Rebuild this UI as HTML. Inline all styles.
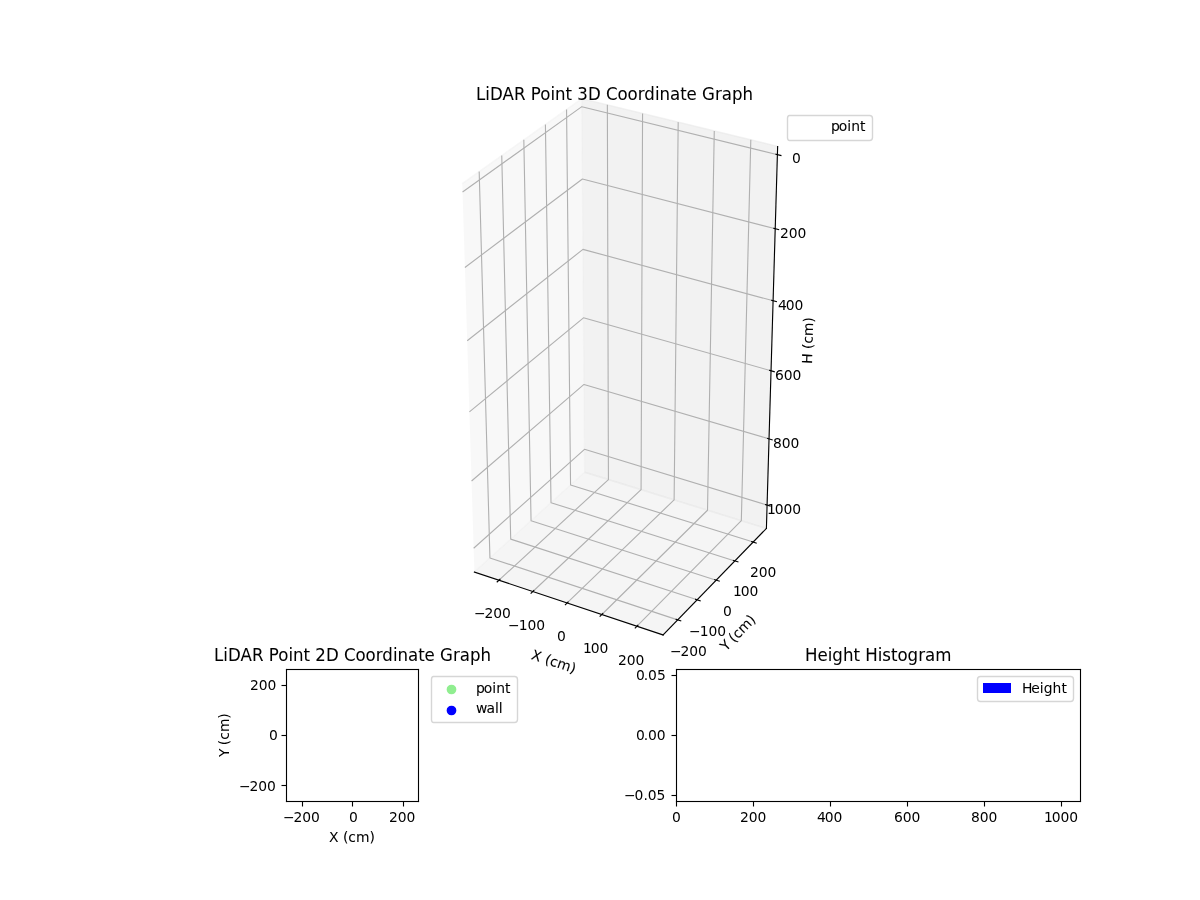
<!DOCTYPE html>
<html lang="en">
<head>
<meta charset="utf-8">
<title>LiDAR Point Coordinate Graphs</title>
<style>
html,body{margin:0;padding:0;background:#fff;width:1200px;height:900px;overflow:hidden}
svg{display:block;position:absolute;left:0;top:0}
text{font-family:"DejaVu Sans","Liberation Sans",sans-serif;fill:#000;white-space:pre}
</style>
</head>
<body>
<svg width="1200" height="900" viewBox="0 0 1200 900">
<path d="M462.29 183.6 L581.79 98.63 L584.68 472.22 L474.4 571.98" fill="#f2f2f2" fill-opacity="0.5" stroke="#f2f2f2" stroke-width="1.389" stroke-opacity="0.5" stroke-linejoin="miter"/>
<path d="M581.79 98.63 L777.93 146.45 L766.4 528.46 L584.68 472.22" fill="#e6e6e6" fill-opacity="0.5" stroke="#e6e6e6" stroke-width="1.389" stroke-opacity="0.5" stroke-linejoin="miter"/>
<path d="M474.4 571.98 L663.06 634.91 L766.4 528.46 L584.68 472.22" fill="#ececec" fill-opacity="0.5" stroke="#ececec" stroke-width="1.389" stroke-opacity="0.5" stroke-linejoin="miter"/>
<path d="M499.01 580.19 L608.42 479.56 L607.36 104.87" fill="none" stroke="#b0b0b0" stroke-width="1.111" stroke-linejoin="round"/>
<path d="M532.88 591.48 L641.08 489.67 L642.56 113.45" fill="none" stroke="#b0b0b0" stroke-width="1.111" stroke-linejoin="round"/>
<path d="M567.16 602.92 L674.11 499.89 L678.19 122.13" fill="none" stroke="#b0b0b0" stroke-width="1.111" stroke-linejoin="round"/>
<path d="M601.86 614.5 L707.52 510.24 L714.27 130.93" fill="none" stroke="#b0b0b0" stroke-width="1.111" stroke-linejoin="round"/>
<path d="M636.99 626.21 L741.33 520.7 L750.81 139.84" fill="none" stroke="#b0b0b0" stroke-width="1.111" stroke-linejoin="round"/>
<path d="M479.18 171.59 L489.93 557.93 L677.64 619.9" fill="none" stroke="#b0b0b0" stroke-width="1.111" stroke-linejoin="round"/>
<path d="M501.75 155.54 L510.71 539.13 L697.13 599.82" fill="none" stroke="#b0b0b0" stroke-width="1.111" stroke-linejoin="round"/>
<path d="M523.82 139.85 L531.06 520.72 L716.21 580.17" fill="none" stroke="#b0b0b0" stroke-width="1.111" stroke-linejoin="round"/>
<path d="M545.41 124.5 L551.01 502.67 L734.89 560.92" fill="none" stroke="#b0b0b0" stroke-width="1.111" stroke-linejoin="round"/>
<path d="M566.55 109.47 L570.56 484.98 L753.2 542.06" fill="none" stroke="#b0b0b0" stroke-width="1.111" stroke-linejoin="round"/>
<path d="M777.68 154.69 L581.85 106.67 L462.55 191.99" fill="none" stroke="#b0b0b0" stroke-width="1.111" stroke-linejoin="round"/>
<path d="M775.45 228.8 L582.41 179.01 L464.9 267.45" fill="none" stroke="#b0b0b0" stroke-width="1.111" stroke-linejoin="round"/>
<path d="M773.27 300.81 L582.95 249.37 L467.19 340.72" fill="none" stroke="#b0b0b0" stroke-width="1.111" stroke-linejoin="round"/>
<path d="M771.16 370.81 L583.48 317.82 L469.41 411.88" fill="none" stroke="#b0b0b0" stroke-width="1.111" stroke-linejoin="round"/>
<path d="M769.11 438.88 L584 384.45 L471.56 481.04" fill="none" stroke="#b0b0b0" stroke-width="1.111" stroke-linejoin="round"/>
<path d="M767.11 505.1 L584.5 449.32 L473.66 548.27" fill="none" stroke="#b0b0b0" stroke-width="1.111" stroke-linejoin="round"/>
<path d="M474.4 572.03 L663.06 634.96" fill="none" stroke="#000000" stroke-width="1.111" stroke-linecap="square" stroke-linejoin="round"/>
<path d="M499.94 579.34 L497.16 581.89" fill="none" stroke="#000000" stroke-width="1.111" stroke-linecap="square" stroke-linejoin="round"/>
<text x="473.91 484.53 493.36 501.93" y="618.24" font-size="13.89">−200</text>
<path d="M533.79 590.62 L531.05 593.21" fill="none" stroke="#000000" stroke-width="1.111" stroke-linecap="square" stroke-linejoin="round"/>
<text x="507.89 518.76 527.59 536.15" y="629.69" font-size="13.89">−100</text>
<path d="M568.06 602.05 L565.35 604.66" fill="none" stroke="#000000" stroke-width="1.111" stroke-linecap="square" stroke-linejoin="round"/>
<text x="556.97" y="641.28" font-size="13.89">0</text>
<path d="M602.75 613.61 L600.07 616.26" fill="none" stroke="#000000" stroke-width="1.111" stroke-linecap="square" stroke-linejoin="round"/>
<text x="583.03 590.84 599.42" y="653.01" font-size="13.89">100</text>
<path d="M637.87 625.32 L635.22 628" fill="none" stroke="#000000" stroke-width="1.111" stroke-linecap="square" stroke-linejoin="round"/>
<text x="617.89 626.7 635.53" y="664.88" font-size="13.89">200</text>
<text x="530.42 540.17 544.82 550 557.62 571.14" y="658.85" transform="rotate(-341.552 530.67 658.85)" font-size="13.89" stroke="#000" stroke-width="0.07">X (cm)</text>
<path d="M766.4 528.46 L663.06 634.91" fill="none" stroke="#000000" stroke-width="1.156" stroke-linecap="square" stroke-linejoin="round"/>
<path d="M676.09 619.38 L680.75 620.92" fill="none" stroke="#000000" stroke-width="1.111" stroke-linecap="square" stroke-linejoin="round"/>
<text x="669.94 680.57 689.15 697.96" y="655.72" font-size="13.89">−200</text>
<path d="M695.59 599.32 L700.21 600.83" fill="none" stroke="#000000" stroke-width="1.111" stroke-linecap="square" stroke-linejoin="round"/>
<text x="688.95 699.83 708.41 717.22" y="636.44" font-size="13.89">−100</text>
<path d="M714.68 579.68 L719.27 581.15" fill="none" stroke="#000000" stroke-width="1.111" stroke-linecap="square" stroke-linejoin="round"/>
<text x="723" y="615.58" font-size="13.89">0</text>
<path d="M733.38 560.44 L737.93 561.88" fill="none" stroke="#000000" stroke-width="1.111" stroke-linecap="square" stroke-linejoin="round"/>
<text x="732.97 740.78 749.61" y="596.12" font-size="13.89">100</text>
<path d="M751.69 541.59 L756.22 543.01" fill="none" stroke="#000000" stroke-width="1.111" stroke-linecap="square" stroke-linejoin="round"/>
<text x="749.93 758.74 767.57" y="577.07" font-size="13.89">200</text>
<text x="726.36 733.83 738.24 743.41 751.03 764.55" y="652.42" transform="rotate(-45.85 725.36 652.42)" font-size="13.89" stroke="#000" stroke-width="0.06">Y (cm)</text>
<path d="M766.4 528.46 L777.63 146.45" fill="none" stroke="#000000" stroke-width="1.111" stroke-linecap="square" stroke-linejoin="round"/>
<path d="M776.06 154.29 L780.93 155.48" fill="none" stroke="#000000" stroke-width="1.111" stroke-linecap="square" stroke-linejoin="round"/>
<text x="792.12" y="162.58" font-size="13.89">0</text>
<path d="M773.85 228.39 L778.64 229.62" fill="none" stroke="#000000" stroke-width="1.111" stroke-linecap="square" stroke-linejoin="round"/>
<text x="779.88 788.7 797.53" y="237.61" font-size="13.89">200</text>
<path d="M771.7 300.39 L776.42 301.66" fill="none" stroke="#000000" stroke-width="1.111" stroke-linecap="square" stroke-linejoin="round"/>
<text x="777.97 785.78 794.61" y="309.56" font-size="13.89">400</text>
<path d="M769.61 370.38 L774.27 371.69" fill="none" stroke="#000000" stroke-width="1.111" stroke-linecap="square" stroke-linejoin="round"/>
<text x="775.05 783.86 792.44" y="380.49" font-size="13.89">600</text>
<path d="M767.58 438.43 L772.17 439.78" fill="none" stroke="#000000" stroke-width="1.111" stroke-linecap="square" stroke-linejoin="round"/>
<text x="773.01 781.83 790.41" y="447.5" font-size="13.89">800</text>
<path d="M765.6 504.64 L770.13 506.02" fill="none" stroke="#000000" stroke-width="1.111" stroke-linecap="square" stroke-linejoin="round"/>
<text x="766.91 774.73 783.56 792.13" y="513.66" font-size="13.89">1000</text>
<text x="811.75 822.42 826.59 832 839.62 853.14" y="363.79" transform="rotate(-88.271 812 363.79)" font-size="13.89" stroke="#000" stroke-width="0.04">H (cm)</text>
<text x="-0.27 9.64 14.84 28.22 40.38 52.73 58.39 68.48 79.63 84.3 95.56 102.53 108.19 119.77 133.19 139.11 151.27 162.14 173.02 180.02 191.58 196.25 207.52 218.67 225.39 236.33 241.97 255.75 263.06 273.95 285.25" y="0" transform="translate(476.25 99.67) scale(0.93335 1)" font-size="17.8" stroke="#000" stroke-width="0.04">LiDAR Point 3D Coordinate Graph</text>
<path d="M789.5 140.5 L869.5 140.5 Q872.5 140.5 872.5 137.5 L872.5 118.5 Q872.5 115.5 869.5 115.5 L789.5 115.5 Q787.5 115.5 787.5 118.5 L787.5 137.5 Q787.5 140.5 789.5 140.5 Z" fill="#ffffff" fill-opacity="0.8" stroke="#cccccc" stroke-width="1.389" stroke-opacity="0.8" stroke-linejoin="miter"/>
<text x="831 838.8 847.28 851.14 859.94" y="130.5" font-size="13.89" stroke="#000" stroke-width="0.06">point</text>
<rect x="301.944" y="801.5" width="1.111" height="5" fill="#000000"/>
<text x="282.95 293.58 302.15 310.97" y="821.72" font-size="13.89">−200</text>
<rect x="351.944" y="801.5" width="1.111" height="5" fill="#000000"/>
<text x="349.05" y="821.72" font-size="13.89">0</text>
<rect x="402.944" y="801.5" width="1.111" height="5" fill="#000000"/>
<text x="389.08 397.65 406.48" y="821.72" font-size="13.89">200</text>
<text x="328.99 338.49 342.89 348.31 355.94 369.46" y="842.28" font-size="13.89" stroke="#000" stroke-width="0.05">X (cm)</text>
<rect x="281.5" y="784.944" width="5" height="1.111" fill="#000000"/>
<text x="239.08 249.45 258.28 267.09" y="790.79" font-size="13.89">−200</text>
<rect x="281.5" y="734.944" width="5" height="1.111" fill="#000000"/>
<text x="268.95" y="739.5" font-size="13.89">0</text>
<rect x="281.5" y="684.944" width="5" height="1.111" fill="#000000"/>
<text x="249.95 258.76 267.59" y="690.21" font-size="13.89">200</text>
<text x="229.52 236.99 241.15 246.57 254.44 267.71" y="757.88" transform="rotate(-90 228.52 757.88)" font-size="13.89">Y (cm)</text>
<rect x="285.944" y="668.944" width="1.111" height="133.111" fill="#000000"/>
<rect x="417.944" y="668.944" width="1.111" height="133.111" fill="#000000"/>
<rect x="285.944" y="800.944" width="133.111" height="1.111" fill="#000000"/>
<rect x="285.944" y="668.944" width="133.111" height="1.111" fill="#000000"/>
<text x="-0.26 9.43 14.52 27.59 39.5 51.58 57.11 66.97 77.87 82.44 93.47 100.28 105.81 117.14 130.27 136.06 147.94 158.32 169.22 176.06 187.11 191.94 202.95 213.61 220.18 231.12 236.39 250.14 257.02 267.94 278.72" y="0" transform="translate(214.17 660.67) scale(0.95518 1)" font-size="17.4" stroke="#000" stroke-width="0.04">LiDAR Point 2D Coordinate Graph</text>
<path d="M433.5 722.5 L514.5 722.5 Q517.5 722.5 517.5 719.5 L517.5 679.5 Q517.5 676.5 514.5 676.5 L433.5 676.5 Q431.5 676.5 431.5 679.5 L431.5 719.5 Q431.5 722.5 433.5 722.5 Z" fill="#ffffff" fill-opacity="0.8" stroke="#cccccc" stroke-width="1.389" stroke-opacity="0.8" stroke-linejoin="miter"/>
<circle cx="451.5" cy="689.5" r="4.167" fill="#90ee90" stroke="#90ee90" stroke-width="1.389"/>
<text x="475.91 483.71 492.19 496.3 505.1" y="692.5" font-size="13.89" stroke="#000" stroke-width="0.06">point</text>
<circle cx="451.5" cy="710.5" r="4.167" fill="#0000ff" stroke="#0000ff" stroke-width="1.389"/>
<text x="475.91 486.51 495.01 498.87" y="713.44" font-size="13.89" stroke="#000" stroke-width="0.08">wall</text>
<rect x="675.944" y="801.5" width="1.111" height="5" fill="#000000"/>
<text x="672.03" y="821.72" font-size="13.89">0</text>
<rect x="752.944" y="801.5" width="1.111" height="5" fill="#000000"/>
<text x="740.05 748.86 757.44" y="821.72" font-size="13.89">200</text>
<rect x="829.944" y="801.5" width="1.111" height="5" fill="#000000"/>
<text x="817.06 824.63 833.46" y="821.72" font-size="13.89">400</text>
<rect x="906.944" y="801.5" width="1.111" height="5" fill="#000000"/>
<text x="894.02 902.83 911.41" y="821.72" font-size="13.89">600</text>
<rect x="983.944" y="801.5" width="1.111" height="5" fill="#000000"/>
<text x="971.04 979.85 988.43" y="821.72" font-size="13.89">800</text>
<rect x="1060.944" y="801.5" width="1.111" height="5" fill="#000000"/>
<text x="1043.93 1051.74 1060.57 1069.15" y="821.72" font-size="13.89">1000</text>
<rect x="671.5" y="794.944" width="5" height="1.111" fill="#000000"/>
<text x="623.93 634.55 643.38 647.79 656.62" y="799.5" font-size="13.89">−0.05</text>
<rect x="671.5" y="734.944" width="5" height="1.111" fill="#000000"/>
<text x="636.05 643.87 648.04 656.87" y="739.5" font-size="13.89">0.00</text>
<rect x="671.5" y="674.944" width="5" height="1.111" fill="#000000"/>
<text x="636.05 643.87 648.04 657.12" y="679.5" font-size="13.89">0.05</text>
<rect x="675.944" y="668.944" width="1.111" height="133.111" fill="#000000"/>
<rect x="1079.944" y="668.944" width="1.111" height="133.111" fill="#000000"/>
<rect x="675.944" y="800.944" width="405.111" height="1.111" fill="#000000"/>
<rect x="675.944" y="668.944" width="405.111" height="1.111" fill="#000000"/>
<text x="0 13.67 25.13 29.91 41.73 53.26 60.11 65.89 79.58 84.63 94.09 101.23 112.36 123.91 131.38 142.53" y="0" transform="translate(804.89 660.67) scale(0.91421 1)" font-size="18.2" stroke="#000" stroke-width="0.05">Height Histogram</text>
<path d="M980.5 701.5 L1070.5 701.5 Q1073.5 701.5 1073.5 698.5 L1073.5 679.5 Q1073.5 676.5 1070.5 676.5 L980.5 676.5 Q977.5 676.5 977.5 679.5 L977.5 698.5 Q977.5 701.5 980.5 701.5 Z" fill="#ffffff" fill-opacity="0.8" stroke="#cccccc" stroke-width="1.389" stroke-opacity="0.8" stroke-linejoin="miter"/>
<path d="M983 693 L1011 693 L1011 683 L983 683 Z" fill="#0000ff"/>
<text x="1021.88 1031.3 1039.84 1043.69 1052.5 1061.55" y="692.5" font-size="13.89" stroke="#000" stroke-width="0.03">Height</text>
</svg>
</body>
</html>
